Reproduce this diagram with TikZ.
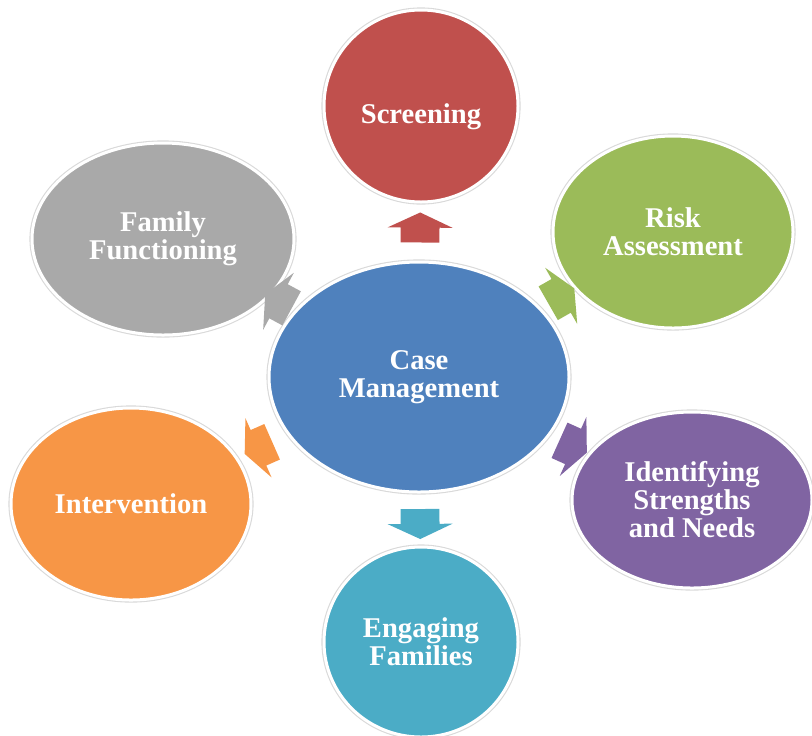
\documentclass[tikz,border=0pt]{standalone}
\usepackage{fontspec}
\setmainfont{Liberation Serif}
\usetikzlibrary{shapes.geometric,shapes.arrows}
\definecolor{cmblue}{HTML}{4F81BD}
\definecolor{cmred}{HTML}{C0504D}
\definecolor{cmgreen}{HTML}{9BBB59}
\definecolor{cmpurple}{HTML}{8064A2}
\definecolor{cmaqua}{HTML}{4BACC6}
\definecolor{cmorange}{HTML}{F79646}
\definecolor{cmgray}{HTML}{A9A9A9}

\begin{document}
\begin{tikzpicture}[x=0.5pt,y=-0.5pt,
 bubble/.style={ellipse,draw=white,line width=1.5pt,preaction={draw=black!15,line width=2.6pt},
  outer sep=0pt,inner sep=0pt,text=white,font=\fontsize{14.3}{14}\selectfont\bfseries,align=center},
 pointer/.style={single arrow,draw=none,minimum height=15pt,
  single arrow head extend=6.5pt,single arrow tip angle=130,inner xsep=0pt,inner ysep=9.5pt,
  sloped,allow upside down,midway}]
\useasboundingbox (0,0) rectangle (812,735);
\node[bubble,fill=cmblue,minimum width=150pt,minimum height=115pt] (case) at (419,377) {Case\\Management};
\node[bubble,fill=cmred,minimum width=97pt,minimum height=96pt] (screen) at (421,106) {\raisebox{-8.5pt}[0pt][0pt]{Screening}};
\node[bubble,fill=cmgreen,minimum width=120pt,minimum height=96pt] (risk) at (673,232) {Risk\\Assessment};
\node[bubble,fill=cmpurple,minimum width=120pt,minimum height=88pt] (needs) at (692,500) {Identifying\\Strengths\\and Needs};
\node[bubble,fill=cmaqua,minimum width=97pt,minimum height=95pt] (engage) at (421,642) {Engaging\\Families};
\node[bubble,fill=cmorange,minimum width=120pt,minimum height=96pt] (interv) at (131,504) {Intervention};
\node[bubble,fill=cmgray,minimum width=131pt,minimum height=96pt] (family) at (163,239) {Family\\Functioning};

\path (case) -- node[pointer,fill=cmred] (toscreen) {} (screen);
\path (case) -- node[pointer,fill=cmgreen] (torisk) {} (risk);
\path (case) -- node[pointer,fill=cmpurple] (toneeds) {} (needs);
\path (case) -- node[pointer,fill=cmaqua] (toengage) {} (engage);
\path (case) -- node[pointer,fill=cmorange] (tointerv) {} (interv);
\path (case) -- node[pointer,fill=cmgray] (tofamily) {} (family);
\end{tikzpicture}
\end{document}
